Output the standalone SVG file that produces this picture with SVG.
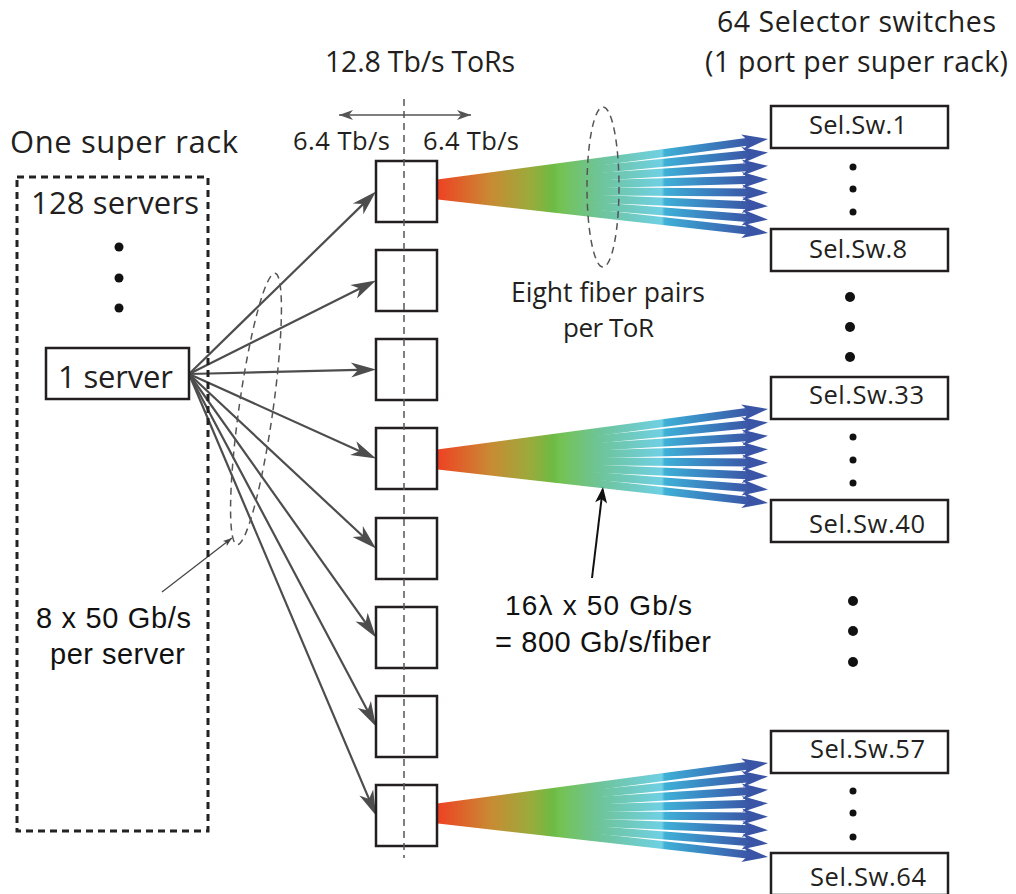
<svg xmlns="http://www.w3.org/2000/svg" xmlns:xlink="http://www.w3.org/1999/xlink" width="1016" height="894" viewBox="0 0 1016 894">
  <defs>
    <style>
      .hum { font-family: "Open Sans", "Liberation Sans", sans-serif; fill: #231f20; }
      .ari { font-family: "Liberation Sans", Arial, sans-serif; fill: #111; }
      .box { fill: #fff; stroke: #231f20; stroke-width: 2.5; }
      .link { stroke: #4d4d4d; stroke-width: 2.2; fill: none; marker-end: url(#ahead); }
      .fiber { stroke: url(#spectrum); stroke-width: 8; fill: none; marker-end: url(#fhead); }
      .guide { fill: none; stroke: #555; stroke-width: 1.5; stroke-dasharray: 7 5; }
      .dot { fill: #111; }
    </style>

    <!-- wavelength colour ramp along each fiber bundle -->
    <linearGradient id="spectrum" gradientUnits="userSpaceOnUse" x1="437" y1="0" x2="770" y2="0">
      <stop offset="0" stop-color="#ef4123"/>
      <stop offset="0.16" stop-color="#c98a33"/>
      <stop offset="0.28" stop-color="#9aab3c"/>
      <stop offset="0.35" stop-color="#6cbb44"/>
      <stop offset="0.37" stop-color="#74c253"/>
      <stop offset="0.49" stop-color="#6ec49a"/>
      <stop offset="0.675" stop-color="#6fd0e4"/>
      <stop offset="0.684" stop-color="#3fb0d6"/>
      <stop offset="0.80" stop-color="#3a86c3"/>
      <stop offset="0.92" stop-color="#3b5ca9"/>
      <stop offset="1" stop-color="#3a4fa2"/>
    </linearGradient>

    <marker id="fhead" markerUnits="userSpaceOnUse" markerWidth="40" markerHeight="20" viewBox="-20 -10 40 20" refX="0" refY="0" orient="auto" overflow="visible">
      <path d="M14,0 L-12,-8 L-5,0 L-12,8 Z" fill="#3b55a6"/>
    </marker>
    <marker id="ahead" markerUnits="userSpaceOnUse" markerWidth="40" markerHeight="20" viewBox="-20 -10 40 20" refX="0" refY="0" orient="auto" overflow="visible">
      <path d="M8,0 L-17,-7.5 L-10,0 L-17,7.5 Z" fill="#4d4d4d"/>
    </marker>
    <marker id="dhead" markerUnits="userSpaceOnUse" markerWidth="30" markerHeight="14" viewBox="-20 -7 30 14" refX="0" refY="0" orient="auto-start-reverse" overflow="visible">
      <path d="M0,0 L-14,-5 L-10,0 L-14,5 Z" fill="#555"/>
    </marker>
    <marker id="shead" markerUnits="userSpaceOnUse" markerWidth="20" markerHeight="10" viewBox="-12 -5 20 10" refX="0" refY="0" orient="auto" overflow="visible">
      <path d="M0,0 L-9,-3.2 L-7,0 L-9,3.2 Z" fill="#444"/>
    </marker>
    <marker id="khead" markerUnits="userSpaceOnUse" markerWidth="24" markerHeight="14" viewBox="-16 -7 24 14" refX="0" refY="0" orient="auto" overflow="visible">
      <path d="M3,0 L-13,-6 L-9,0 L-13,6 Z" fill="#111"/>
    </marker>

    <!-- eight fiber pairs leaving one ToR -->
    <g id="fan">
      <line class="fiber" x1="434" y1="184" x2="754.13" y2="140.89"/>
      <line class="fiber" x1="434" y1="185.57" x2="754.07" y2="153.82"/>
      <line class="fiber" x1="434" y1="187.14" x2="754.03" y2="166.76"/>
      <line class="fiber" x1="434" y1="188.71" x2="754.01" y2="179.69"/>
      <line class="fiber" x1="434" y1="190.29" x2="754.0" y2="192.61"/>
      <line class="fiber" x1="434" y1="191.86" x2="754.01" y2="205.54"/>
      <line class="fiber" x1="434" y1="193.43" x2="754.02" y2="218.47"/>
      <line class="fiber" x1="434" y1="195" x2="754.09" y2="231.40"/>
    </g>
  </defs>

  <rect width="1016" height="894" fill="#fff"/>

  <!-- connectors -->
  <g id="connectors">
    <line class="link" x1="189" y1="374" x2="370.27" y2="197.09"/>
    <line class="link" x1="189" y1="374" x2="368.84" y2="284.08"/>
    <line class="link" x1="189" y1="374" x2="368.0" y2="369.69"/>
    <line class="link" x1="189" y1="374" x2="368.71" y2="455.21"/>
    <line class="link" x1="189" y1="374" x2="370.15" y2="543.04"/>
    <line class="link" x1="189" y1="374" x2="371.37" y2="630.98"/>
    <line class="link" x1="189" y1="374" x2="372.25" y2="719.43"/>
    <line class="link" x1="189" y1="374" x2="372.88" y2="808.13"/>

    <use xlink:href="#fan" href="#fan"/>
    <use xlink:href="#fan" href="#fan" y="270"/>
    <use xlink:href="#fan" href="#fan" y="624"/>

    <line x1="339" y1="115" x2="471" y2="115" stroke="#555" stroke-width="1.5" marker-start="url(#dhead)" marker-end="url(#dhead)"/>
    <line x1="162" y1="592" x2="232" y2="538" stroke="#444" stroke-width="1.2" marker-end="url(#shead)"/>
    <line x1="592" y1="578" x2="602.64" y2="489.98" stroke="#111" stroke-width="2" marker-end="url(#khead)"/>
  </g>

  <!-- super rack -->
  <g id="super-rack">
    <text class="hum" x="10" y="153" font-size="31" textLength="228" lengthAdjust="spacing">One super rack</text>
    <rect x="17" y="177" width="191" height="654" fill="none" stroke="#222" stroke-width="3" stroke-dasharray="7 5"/>
    <text class="hum" x="31" y="214" font-size="31" textLength="168" lengthAdjust="spacing">128 servers</text>
    <circle class="dot" cx="119" cy="247" r="4.5"/>
    <circle class="dot" cx="119" cy="278" r="4.5"/>
    <circle class="dot" cx="119" cy="308" r="4.5"/>
  </g>

  <g id="server-1">
    <rect class="box" x="46" y="348" width="143" height="51"/>
    <text class="hum" x="58" y="388" font-size="31" textLength="115" lengthAdjust="spacing">1 server</text>
  </g>

  <!-- ToR switches -->
  <text class="hum" x="325" y="72" font-size="28.5" textLength="190" lengthAdjust="spacing">12.8 Tb/s ToRs</text>
  <text class="hum" x="293" y="150" font-size="25.5" textLength="97" lengthAdjust="spacing">6.4 Tb/s</text>
  <text class="hum" x="423" y="150" font-size="25.5" textLength="96" lengthAdjust="spacing">6.4 Tb/s</text>
  <g id="tor-1"><rect class="box" x="376" y="161" width="61" height="61"/></g>
  <g id="tor-2"><rect class="box" x="376" y="250" width="61" height="61"/></g>
  <g id="tor-3"><rect class="box" x="376" y="339" width="61" height="61"/></g>
  <g id="tor-4"><rect class="box" x="376" y="428" width="61" height="61"/></g>
  <g id="tor-5"><rect class="box" x="376" y="518" width="61" height="61"/></g>
  <g id="tor-6"><rect class="box" x="376" y="607" width="61" height="61"/></g>
  <g id="tor-7"><rect class="box" x="376" y="696" width="61" height="61"/></g>
  <g id="tor-8"><rect class="box" x="376" y="785" width="61" height="61"/></g>
  <line x1="404" y1="99" x2="404" y2="858" class="guide"/>

  <!-- bundle markers -->
  <ellipse class="guide" cx="256" cy="409" rx="17" ry="137" transform="rotate(8 256 409)"/>
  <ellipse class="guide" cx="603" cy="187" rx="16" ry="80"/>

  <!-- annotations -->
  <text class="hum" x="511" y="302" font-size="26.5" textLength="194" lengthAdjust="spacing">Eight fiber pairs</text>
  <text class="hum" x="563" y="337" font-size="26" textLength="91" lengthAdjust="spacing">per ToR</text>
  <text class="ari" x="36" y="628" font-size="29" textLength="155" lengthAdjust="spacing">8 x 50 Gb/s</text>
  <text class="ari" x="50" y="664" font-size="29" textLength="135" lengthAdjust="spacing">per server</text>
  <text class="ari" x="505" y="615" font-size="28" textLength="187" lengthAdjust="spacing">16λ x 50 Gb/s</text>
  <text class="ari" x="495" y="652" font-size="29" textLength="216" lengthAdjust="spacing">= 800 Gb/s/fiber</text>

  <!-- selector switches -->
  <text class="hum" x="717" y="32" font-size="28.5" textLength="279" lengthAdjust="spacing">64 Selector switches</text>
  <text class="hum" x="705" y="72" font-size="28.5" textLength="303" lengthAdjust="spacing">(1 port per super rack)</text>

  <g id="sel-sw-1">
    <rect class="box" x="771" y="106" width="177" height="42"/>
    <text class="hum" x="809" y="134" font-size="25.5" textLength="98" lengthAdjust="spacing">Sel.Sw.1</text>
  </g>
  <circle class="dot" cx="853" cy="167" r="3.5"/>
  <circle class="dot" cx="853" cy="189" r="3.5"/>
  <circle class="dot" cx="853" cy="212" r="3.5"/>
  <g id="sel-sw-8">
    <rect class="box" x="771" y="229" width="177" height="42"/>
    <text class="hum" x="809" y="258" font-size="25.5" textLength="98" lengthAdjust="spacing">Sel.Sw.8</text>
  </g>

  <circle class="dot" cx="850" cy="297" r="5"/>
  <circle class="dot" cx="850" cy="327" r="5"/>
  <circle class="dot" cx="850" cy="357" r="5"/>

  <g id="sel-sw-33">
    <rect class="box" x="771" y="377" width="177" height="42"/>
    <text class="hum" x="809" y="404" font-size="25.5" textLength="115" lengthAdjust="spacing">Sel.Sw.33</text>
  </g>
  <circle class="dot" cx="853" cy="437" r="3.5"/>
  <circle class="dot" cx="853" cy="460" r="3.5"/>
  <circle class="dot" cx="853" cy="483" r="3.5"/>
  <g id="sel-sw-40">
    <rect class="box" x="771" y="500" width="177" height="42"/>
    <text class="hum" x="809" y="533" font-size="25.5" textLength="116" lengthAdjust="spacing">Sel.Sw.40</text>
  </g>

  <circle class="dot" cx="853" cy="601" r="5"/>
  <circle class="dot" cx="853" cy="631" r="5"/>
  <circle class="dot" cx="853" cy="662" r="5"/>

  <g id="sel-sw-57">
    <rect class="box" x="771" y="731" width="177" height="42"/>
    <text class="hum" x="810" y="758" font-size="25.5" textLength="115" lengthAdjust="spacing">Sel.Sw.57</text>
  </g>
  <circle class="dot" cx="853" cy="791" r="3.5"/>
  <circle class="dot" cx="853" cy="813" r="3.5"/>
  <circle class="dot" cx="853" cy="837" r="3.5"/>
  <g id="sel-sw-64">
    <rect class="box" x="771" y="853" width="177" height="42"/>
    <text class="hum" x="810" y="886" font-size="25.5" textLength="116" lengthAdjust="spacing">Sel.Sw.64</text>
  </g>
</svg>
